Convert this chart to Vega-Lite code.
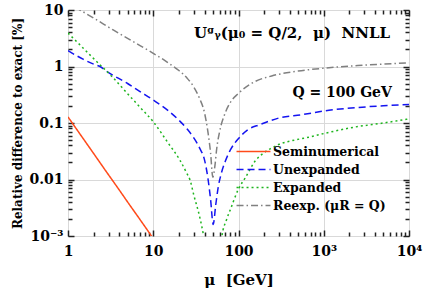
{
  "$schema": "https://vega.github.io/schema/vega-lite/v6.json",
  "width": 341,
  "height": 226,
  "autosize": {"type": "none"},
  "padding": {"left": 68, "top": 10, "right": 15, "bottom": 62},
  "background": "white",
  "config": {"view": {"stroke": "#333", "strokeWidth": 1}, "font": "DejaVu Serif"},
  "datasets": {
    "curves": [
      {"series": "Seminumerical", "mu": 1, "val": 0.128},
      {"series": "Seminumerical", "mu": 1.5, "val": 0.0535},
      {"series": "Seminumerical", "mu": 2, "val": 0.0288},
      {"series": "Seminumerical", "mu": 3, "val": 0.012},
      {"series": "Seminumerical", "mu": 4, "val": 0.0065},
      {"series": "Seminumerical", "mu": 5, "val": 0.004},
      {"series": "Seminumerical", "mu": 7, "val": 0.00195},
      {"series": "Seminumerical", "mu": 10, "val": 0.0009},
      {"series": "Seminumerical", "mu": 12, "val": 0.0006},

      {"series": "Unexpanded", "mu": 1, "val": 1.9},
      {"series": "Unexpanded", "mu": 1.5, "val": 1.35},
      {"series": "Unexpanded", "mu": 2, "val": 1.1},
      {"series": "Unexpanded", "mu": 2.37, "val": 1.0},
      {"series": "Unexpanded", "mu": 3, "val": 0.78},
      {"series": "Unexpanded", "mu": 5, "val": 0.5},
      {"series": "Unexpanded", "mu": 7, "val": 0.36},
      {"series": "Unexpanded", "mu": 10, "val": 0.255},
      {"series": "Unexpanded", "mu": 15, "val": 0.165},
      {"series": "Unexpanded", "mu": 20, "val": 0.112},
      {"series": "Unexpanded", "mu": 25, "val": 0.078},
      {"series": "Unexpanded", "mu": 30, "val": 0.054},
      {"series": "Unexpanded", "mu": 35, "val": 0.036},
      {"series": "Unexpanded", "mu": 40, "val": 0.022},
      {"series": "Unexpanded", "mu": 44, "val": 0.01},
      {"series": "Unexpanded", "mu": 47, "val": 0.0045},
      {"series": "Unexpanded", "mu": 50.5, "val": 0.0016},
      {"series": "Unexpanded", "mu": 54, "val": 0.0035},
      {"series": "Unexpanded", "mu": 58, "val": 0.0075},
      {"series": "Unexpanded", "mu": 63, "val": 0.013},
      {"series": "Unexpanded", "mu": 70, "val": 0.021},
      {"series": "Unexpanded", "mu": 80, "val": 0.033},
      {"series": "Unexpanded", "mu": 100, "val": 0.053},
      {"series": "Unexpanded", "mu": 130, "val": 0.077},
      {"series": "Unexpanded", "mu": 180, "val": 0.094},
      {"series": "Unexpanded", "mu": 245, "val": 0.112},
      {"series": "Unexpanded", "mu": 300, "val": 0.123},
      {"series": "Unexpanded", "mu": 550, "val": 0.14},
      {"series": "Unexpanded", "mu": 1150, "val": 0.168},
      {"series": "Unexpanded", "mu": 2500, "val": 0.188},
      {"series": "Unexpanded", "mu": 5000, "val": 0.202},
      {"series": "Unexpanded", "mu": 10000, "val": 0.213},

      {"series": "Expanded", "mu": 1, "val": 3.9},
      {"series": "Expanded", "mu": 1.5, "val": 2.13},
      {"series": "Expanded", "mu": 2, "val": 1.38},
      {"series": "Expanded", "mu": 3.39, "val": 0.63},
      {"series": "Expanded", "mu": 5, "val": 0.33},
      {"series": "Expanded", "mu": 7, "val": 0.19},
      {"series": "Expanded", "mu": 10, "val": 0.105},
      {"series": "Expanded", "mu": 15, "val": 0.044},
      {"series": "Expanded", "mu": 20.4, "val": 0.0224},
      {"series": "Expanded", "mu": 25, "val": 0.0125},
      {"series": "Expanded", "mu": 27, "val": 0.0098},
      {"series": "Expanded", "mu": 30, "val": 0.0052},
      {"series": "Expanded", "mu": 35, "val": 0.0022},
      {"series": "Expanded", "mu": 39, "val": 0.001},
      {"series": "Expanded", "mu": 44, "val": 0.0003},
      {"series": "Expanded", "mu": 48, "val": 0.0001},
      {"series": "Expanded", "mu": 56, "val": 0.0001},
      {"series": "Expanded", "mu": 60, "val": 0.0004},
      {"series": "Expanded", "mu": 64, "val": 0.001},
      {"series": "Expanded", "mu": 72, "val": 0.0019},
      {"series": "Expanded", "mu": 80, "val": 0.0029},
      {"series": "Expanded", "mu": 100, "val": 0.0068},
      {"series": "Expanded", "mu": 120, "val": 0.0107},
      {"series": "Expanded", "mu": 156, "val": 0.021},
      {"series": "Expanded", "mu": 200, "val": 0.03},
      {"series": "Expanded", "mu": 245, "val": 0.036},
      {"series": "Expanded", "mu": 300, "val": 0.042},
      {"series": "Expanded", "mu": 460, "val": 0.05},
      {"series": "Expanded", "mu": 630, "val": 0.055},
      {"series": "Expanded", "mu": 1000, "val": 0.065},
      {"series": "Expanded", "mu": 2340, "val": 0.085},
      {"series": "Expanded", "mu": 5000, "val": 0.1},
      {"series": "Expanded", "mu": 10000, "val": 0.118},

      {"series": "Reexp. (μR = Q)", "mu": 1.2, "val": 11.3},
      {"series": "Reexp. (μR = Q)", "mu": 1.38, "val": 10},
      {"series": "Reexp. (μR = Q)", "mu": 2, "val": 7.2},
      {"series": "Reexp. (μR = Q)", "mu": 3.39, "val": 4.43},
      {"series": "Reexp. (μR = Q)", "mu": 5, "val": 3.14},
      {"series": "Reexp. (μR = Q)", "mu": 7, "val": 2.34},
      {"series": "Reexp. (μR = Q)", "mu": 10, "val": 1.71},
      {"series": "Reexp. (μR = Q)", "mu": 14, "val": 1.25},
      {"series": "Reexp. (μR = Q)", "mu": 17.2, "val": 1.0},
      {"series": "Reexp. (μR = Q)", "mu": 20, "val": 0.85},
      {"series": "Reexp. (μR = Q)", "mu": 25, "val": 0.62},
      {"series": "Reexp. (μR = Q)", "mu": 30, "val": 0.43},
      {"series": "Reexp. (μR = Q)", "mu": 35, "val": 0.27},
      {"series": "Reexp. (μR = Q)", "mu": 40, "val": 0.15},
      {"series": "Reexp. (μR = Q)", "mu": 44, "val": 0.066},
      {"series": "Reexp. (μR = Q)", "mu": 47, "val": 0.03},
      {"series": "Reexp. (μR = Q)", "mu": 50, "val": 0.011},
      {"series": "Reexp. (μR = Q)", "mu": 53, "val": 0.018},
      {"series": "Reexp. (μR = Q)", "mu": 55.5, "val": 0.035},
      {"series": "Reexp. (μR = Q)", "mu": 60, "val": 0.07},
      {"series": "Reexp. (μR = Q)", "mu": 69.5, "val": 0.148},
      {"series": "Reexp. (μR = Q)", "mu": 80, "val": 0.23},
      {"series": "Reexp. (μR = Q)", "mu": 100, "val": 0.335},
      {"series": "Reexp. (μR = Q)", "mu": 156, "val": 0.54},
      {"series": "Reexp. (μR = Q)", "mu": 245, "val": 0.68},
      {"series": "Reexp. (μR = Q)", "mu": 500, "val": 0.83},
      {"series": "Reexp. (μR = Q)", "mu": 1150, "val": 0.95},
      {"series": "Reexp. (μR = Q)", "mu": 2500, "val": 1.04},
      {"series": "Reexp. (μR = Q)", "mu": 5000, "val": 1.1},
      {"series": "Reexp. (μR = Q)", "mu": 10000, "val": 1.16}
    ]
  },
  "layer": [
    {
      "data": {"name": "curves"},
      "mark": {"type": "point", "opacity": 0},
      "encoding": {
        "x": {
          "field": "mu", "type": "quantitative",
          "scale": {"type": "log", "domain": [1, 10000], "nice": false},
          "axis": {
            "orient": "bottom", "labels": false, "ticks": false, "domain": false, "title": null,
            "values": [1, 10, 100, 1000, 10000],
            "grid": true, "gridColor": "#d9d9d9", "gridWidth": 1
          }
        },
        "y": {
          "field": "val", "type": "quantitative",
          "scale": {"type": "log", "domain": [0.001, 10], "nice": false},
          "axis": {
            "orient": "left", "labels": false, "ticks": false, "domain": false, "title": null,
            "values": [0.001, 0.01, 0.1, 1, 10],
            "grid": true, "gridColor": "#d9d9d9", "gridWidth": 1
          }
        }
      }
    },
    {
      "data": {"name": "curves"},
      "mark": {"type": "line", "clip": true, "strokeWidth": 1.5, "interpolate": "monotone"},
      "encoding": {
        "x": {
          "field": "mu", "type": "quantitative",
          "scale": {"type": "log", "domain": [1, 10000], "nice": false},
          "axis": {
            "orient": "bottom", "offset": -6, "domain": false, "grid": false,
            "values": [1, 10, 100, 1000, 10000],
            "labelExpr": "datum.value == 1 ? '1' : datum.value == 10 ? '10' : datum.value == 100 ? '100' : datum.value == 1000 ? '10³' : '10⁴'",
            "labelOverlap": false, "labelFlush": false,
            "labelFont": "DejaVu Serif", "labelFontWeight": "bold", "labelFontSize": 14, "labelColor": "black",
            "labelPadding": 8,
            "ticks": true, "tickSize": 6, "tickColor": "#222", "tickWidth": 1.5,
            "title": "μ\u00a0\u00a0[GeV]", "titleFont": "DejaVu Serif", "titleFontWeight": "bold", "titleFontSize": 15, "titleColor": "black",
            "titlePadding": 14
          }
        },
        "y": {
          "field": "val", "type": "quantitative",
          "scale": {"type": "log", "domain": [0.001, 10], "nice": false},
          "axis": {
            "orient": "left", "offset": -6, "domain": false, "grid": false,
            "values": [0.001, 0.01, 0.1, 1, 10],
            "labelExpr": "datum.value == 10 ? '10' : datum.value == 1 ? '1' : datum.value == 0.1 ? '0.1' : datum.value == 0.01 ? '0.01' : '10⁻³'",
            "labelOverlap": false, "labelFlush": false,
            "labelFont": "DejaVu Serif", "labelFontWeight": "bold", "labelFontSize": 14, "labelColor": "black",
            "labelPadding": 5, "labelBaseline": "middle",
            "ticks": true, "tickSize": 6, "tickColor": "#222", "tickWidth": 1.5,
            "title": "\u00a0\u00a0\u00a0\u00a0\u00a0\u00a0Relative difference to exact [%]", "titleFont": "DejaVu Serif", "titleFontWeight": "bold", "titleFontSize": 12, "titleColor": "black"
          }
        },
        "color": {
          "field": "series", "type": "nominal",
          "scale": {"domain": ["Seminumerical", "Unexpanded", "Expanded", "Reexp. (μR = Q)"], "range": ["#ff4a1a", "#1414f0", "#1fb51f", "#808080"]},
          "legend": {
            "orient": "none", "legendX": 179, "legendY": 135, "title": null,
            "labelFont": "DejaVu Serif", "labelFontWeight": "bold", "labelFontSize": 12.5, "labelColor": "black",
            "symbolType": "M-3,0L3,0", "symbolSize": 128, "symbolStrokeWidth": 1.5,
            "labelOffset": 13, "rowPadding": 5
          }
        },
        "strokeDash": {
          "field": "series", "type": "nominal",
          "scale": {"domain": ["Seminumerical", "Unexpanded", "Expanded", "Reexp. (μR = Q)"], "range": [[1, 0], [7, 4], [2, 3], [7, 3, 1.5, 3]]},
          "legend": {
            "orient": "none", "legendX": 179, "legendY": 135, "title": null,
            "labelFont": "DejaVu Serif", "labelFontWeight": "bold", "labelFontSize": 12.5, "labelColor": "black",
            "symbolType": "M-3,0L3,0", "symbolSize": 128, "symbolStrokeWidth": 1.5,
            "labelOffset": 13, "rowPadding": 5
          }
        }
      }
    },
    {
      "data": {"name": "curves"},
      "mark": {"type": "point", "opacity": 0},
      "encoding": {
        "x": {
          "field": "mu", "type": "quantitative",
          "scale": {"type": "log", "domain": [1, 10000], "nice": false},
          "axis": {
            "orient": "bottom", "offset": -4, "labels": false, "domain": false, "grid": false, "title": null,
            "values": [2,3,4,5,6,7,8,9,20,30,40,50,60,70,80,90,200,300,400,500,600,700,800,900,2000,3000,4000,5000,6000,7000,8000,9000],
            "ticks": true, "tickSize": 4, "tickColor": "#222", "tickWidth": 1.5
          }
        },
        "y": {
          "field": "val", "type": "quantitative",
          "scale": {"type": "log", "domain": [0.001, 10], "nice": false},
          "axis": {
            "orient": "left", "offset": -4, "labels": false, "domain": false, "grid": false, "title": null,
            "values": [0.002,0.003,0.004,0.005,0.006,0.007,0.008,0.009,0.02,0.03,0.04,0.05,0.06,0.07,0.08,0.09,0.2,0.3,0.4,0.5,0.6,0.7,0.8,0.9,2,3,4,5,6,7,8,9],
            "ticks": true, "tickSize": 4, "tickColor": "#222", "tickWidth": 1.5
          }
        }
      }
    },
    {
      "data": {"name": "curves"},
      "mark": {"type": "point", "opacity": 0},
      "encoding": {
        "x": {
          "field": "mu", "type": "quantitative",
          "scale": {"type": "log", "domain": [1, 10000], "nice": false},
          "axis": {
            "orient": "top", "offset": -6, "labels": false, "domain": false, "grid": false, "title": null,
            "values": [1, 10, 100, 1000, 10000],
            "ticks": true, "tickSize": 6, "tickColor": "#222", "tickWidth": 1.5
          }
        },
        "y": {
          "field": "val", "type": "quantitative",
          "scale": {"type": "log", "domain": [0.001, 10], "nice": false},
          "axis": {
            "orient": "right", "offset": -6, "labels": false, "domain": false, "grid": false, "title": null,
            "values": [0.001, 0.01, 0.1, 1, 10],
            "ticks": true, "tickSize": 6, "tickColor": "#222", "tickWidth": 1.5
          }
        }
      }
    },
    {
      "data": {"name": "curves"},
      "mark": {"type": "point", "opacity": 0},
      "encoding": {
        "x": {
          "field": "mu", "type": "quantitative",
          "scale": {"type": "log", "domain": [1, 10000], "nice": false},
          "axis": {
            "orient": "top", "offset": -4, "labels": false, "domain": false, "grid": false, "title": null,
            "values": [2,3,4,5,6,7,8,9,20,30,40,50,60,70,80,90,200,300,400,500,600,700,800,900,2000,3000,4000,5000,6000,7000,8000,9000],
            "ticks": true, "tickSize": 4, "tickColor": "#222", "tickWidth": 1.5
          }
        },
        "y": {
          "field": "val", "type": "quantitative",
          "scale": {"type": "log", "domain": [0.001, 10], "nice": false},
          "axis": {
            "orient": "right", "offset": -4, "labels": false, "domain": false, "grid": false, "title": null,
            "values": [0.002,0.003,0.004,0.005,0.006,0.007,0.008,0.009,0.02,0.03,0.04,0.05,0.06,0.07,0.08,0.09,0.2,0.3,0.4,0.5,0.6,0.7,0.8,0.9,2,3,4,5,6,7,8,9],
            "ticks": true, "tickSize": 4, "tickColor": "#222", "tickWidth": 1.5
          }
        }
      }
    },
    {
      "data": {"values": [{"mu": 5990, "val": 3.9, "label": "Uᵍᵧ(μ₀\u00a0=\u00a0Q/2,\u00a0\u00a0μ)\u00a0\u00a0NNLL"}]},
      "mark": {"type": "text", "align": "right", "baseline": "middle", "font": "DejaVu Serif", "fontWeight": "bold", "fontSize": 15, "color": "black"},
      "encoding": {
        "x": {"field": "mu", "type": "quantitative", "scale": {"type": "log", "domain": [1, 10000], "nice": false}, "axis": null},
        "y": {"field": "val", "type": "quantitative", "scale": {"type": "log", "domain": [0.001, 10], "nice": false}, "axis": null},
        "text": {"field": "label"}
      }
    },
    {
      "data": {"values": [{"mu": 6300, "val": 0.34, "label": "Q = 100 GeV"}]},
      "mark": {"type": "text", "align": "right", "baseline": "middle", "font": "DejaVu Serif", "fontWeight": "bold", "fontSize": 14, "color": "black"},
      "encoding": {
        "x": {"field": "mu", "type": "quantitative", "scale": {"type": "log", "domain": [1, 10000], "nice": false}, "axis": null},
        "y": {"field": "val", "type": "quantitative", "scale": {"type": "log", "domain": [0.001, 10], "nice": false}, "axis": null},
        "text": {"field": "label"}
      }
    }
  ],
  "resolve": {"axis": {"x": "independent", "y": "independent"}}
}
